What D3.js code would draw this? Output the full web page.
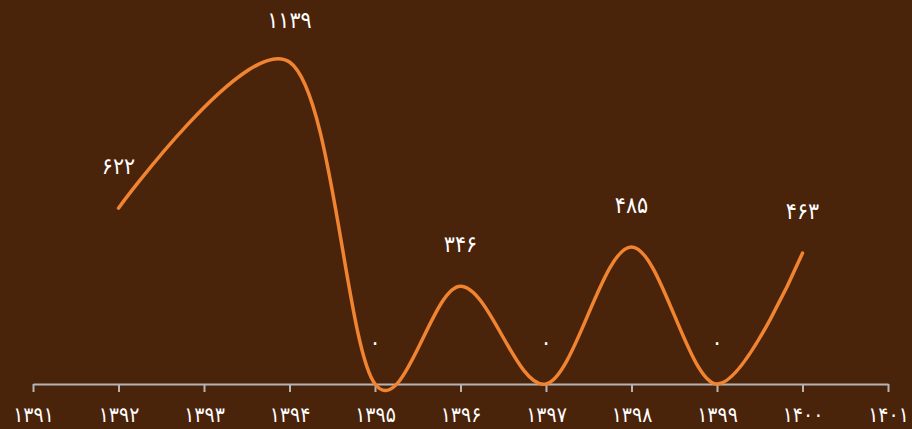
<!DOCTYPE html>
<html><head><meta charset="utf-8">
<script src="https://cdn.jsdelivr.net/npm/d3@7"></script>
<style>html,body{margin:0;padding:0;background:#4a230b;}svg{display:block;}</style>
</head><body>
<svg id="c" width="912" height="429"></svg>
<script>
const years = [1392, 1394, 1395, 1396, 1397, 1398, 1399, 1400];
const values = [622, 1139, 0, 346, 0, 485, 0, 463];
const tickYears = [1391, 1392, 1393, 1394, 1395, 1396, 1397, 1398, 1399, 1400, 1401];

const fa = s => String(s).replace(/[0-9]/g, d => "۰۱۲۳۴۵۶۷۸۹"[+d]);
const FONT = "'DejaVu Sans Condensed', 'DejaVu Sans', sans-serif";

const svg = d3.select("#c");
svg.append("rect").attr("width", 912).attr("height", 429).attr("fill", "#4a230b");

const x = d3.scaleLinear().domain([1391, 1401]).range([33, 888]);
const y = d3.scaleLinear().domain([0, 1139]).range([384, 62]);

const axis = d3.axisBottom(x).tickValues(tickYears).tickSize(8).tickSizeOuter(0).tickPadding(15).tickFormat(fa);
const ga = svg.append("g").attr("transform", "translate(0,384)").call(axis);
ga.select(".domain").attr("stroke", "#b5b5b5").attr("stroke-width", 2);
ga.selectAll(".tick line").attr("stroke", "#b5b5b5").attr("stroke-width", 2);
ga.selectAll(".tick text").attr("fill", "#ffffff").attr("font-size", 21).attr("font-family", FONT);

const pts = years.map((yr, i) => [x(yr), y(values[i])]);
const line = d3.line().curve(d3.curveCardinal.tension(0));
svg.append("path").attr("d", line(pts)).attr("fill", "none")
  .attr("stroke", "#f08430").attr("stroke-width", 3.5).attr("stroke-linecap", "round");

svg.selectAll("text.lbl").data(years).enter().append("text").attr("class", "lbl")
  .attr("x", d => x(d)).attr("y", (d, i) => y(values[i]) - 34)
  .attr("text-anchor", "middle").attr("fill", "#ffffff")
  .attr("font-size", 23).attr("font-family", FONT)
  .text((d, i) => fa(values[i]));
</script>
</body></html>
